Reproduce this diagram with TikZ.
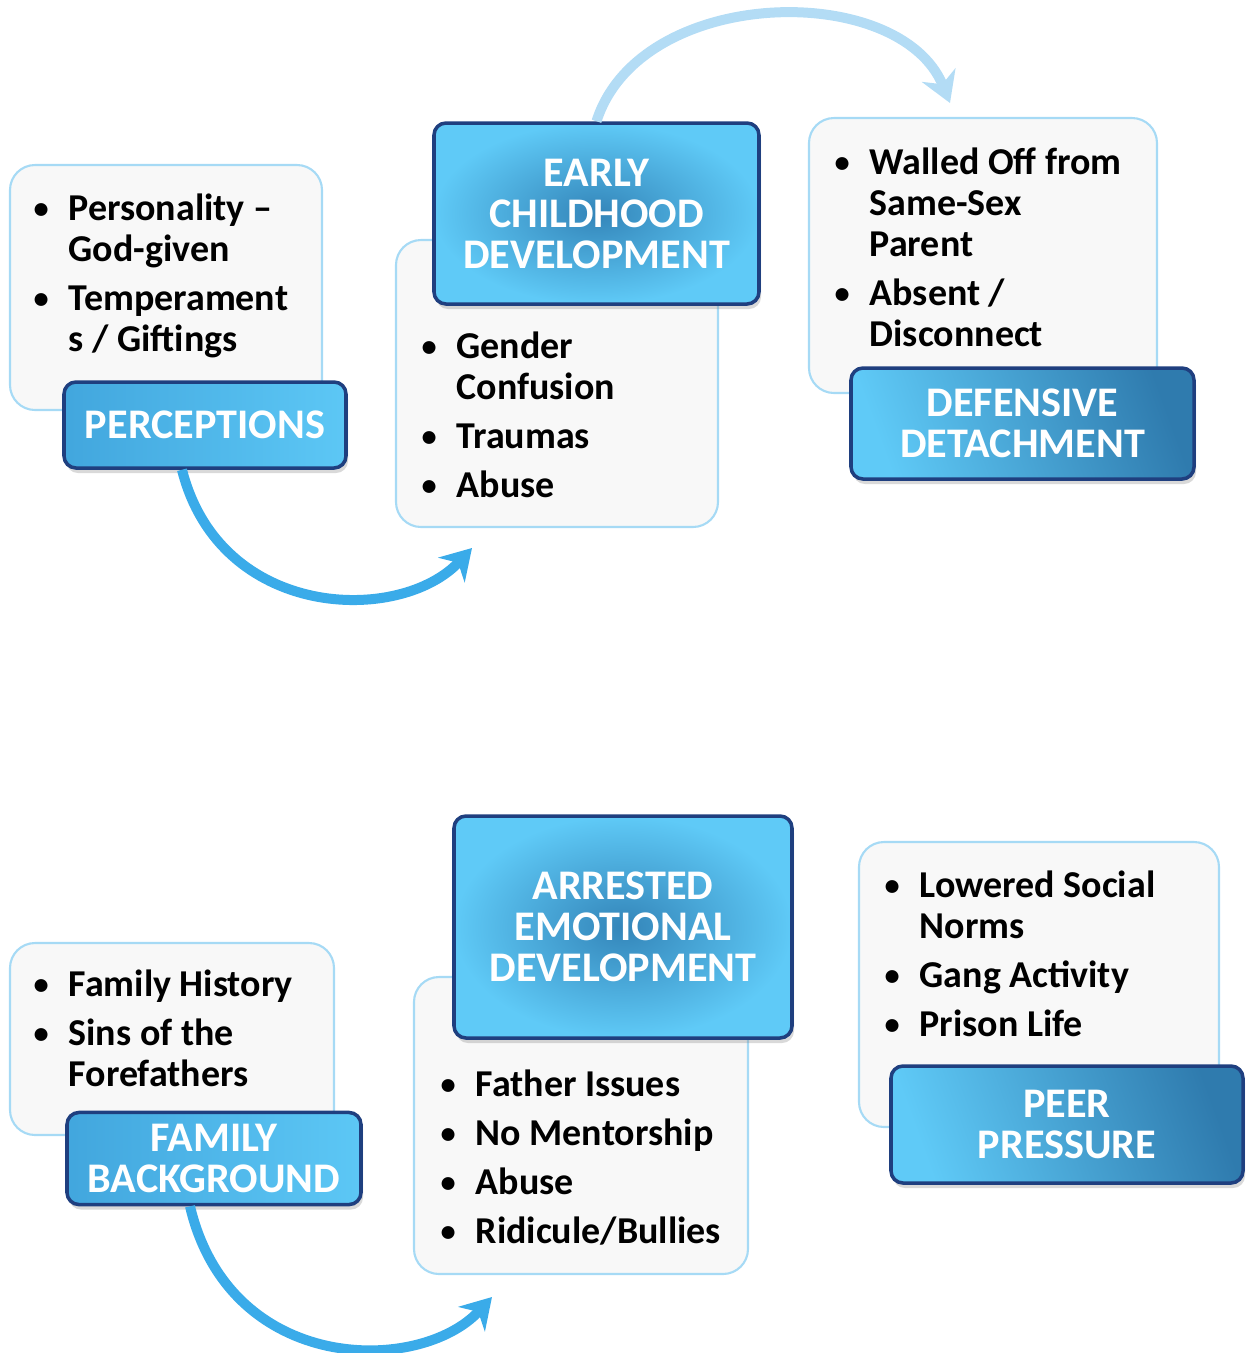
\documentclass[tikz,border=0pt]{standalone}
\usepackage{fontspec}
\setmainfont{Carlito}
\usepackage{tikz}
\usetikzlibrary{arrows.meta}
\usetikzlibrary{shadows}
\usetikzlibrary{positioning}

\definecolor{boxlight}{HTML}{5FCAF7}
\definecolor{boxmid}{HTML}{45AEE6}
\definecolor{boxdark}{HTML}{2F7BAE}
\definecolor{boxedge}{HTML}{1F3F7F}
\definecolor{listfill}{HTML}{F8F8F8}
\definecolor{listedge}{HTML}{A6DAF5}
\definecolor{arrowblue}{HTML}{3AABE9}
\definecolor{arrowpale}{HTML}{B3DCF5}

\newcommand{\bul}{\raisebox{0.02cm}{\scalebox{0.8}{\textbullet}}}

\begin{document}
\begin{tikzpicture}[
	listbox/.style={draw=listedge, line width=0.6pt, fill=listfill, rounded corners=0.25cm},
	listtext/.style={anchor=north west, inner sep=0pt, font=\fontsize{10.8pt}{11.67pt}\selectfont\bfseries},
	titlebox/.style={draw=boxedge, line width=1pt, rounded corners=0.12cm, align=center,
		text=white, font=\fontsize{12pt}{11.67pt}\selectfont\bfseries,
		drop shadow={shadow xshift=0.02cm, shadow yshift=-0.05cm, opacity=0.3}},
	radialshade/.style={inner color=boxdark!80!boxmid, outer color=boxlight},
	linearshade/.style={left color=boxlight, right color=boxdark, shading angle=110},
	flatshade/.style={left color=boxmid!85!boxdark, right color=boxlight!90!boxmid},
	flowarrow/.style={line width=0.1cm, -{Stealth[length=0.3cm, width=0.36cm]}}
]
	\useasboundingbox (0,0) rectangle (12.46,-13.53);
	
	% top row: perceptions
	\node[listbox, minimum width=3.12cm, minimum height=2.45cm] (percBox) at (1.66,-2.875) {};
	\node[listtext] (percList) at (0.33,-1.91) {\begin{tabular}{@{}p{0.35cm}@{}l@{}}
		\bul & Personality -- \\ & God-given \\[0.08cm]
		\bul & Temperament \\ & s / Giftings
	\end{tabular}};
	\node[titlebox, flatshade, minimum width=2.82cm, minimum height=0.86cm] (percTitle) at (2.05,-4.25) {PERCEPTIONS};
	
	% top row: early childhood
	\node[listbox, minimum width=3.22cm, minimum height=2.87cm] (ecdBox) at (5.57,-3.835) {};
	\node[listtext] (ecdList) at (4.21,-3.29) {\begin{tabular}{@{}p{0.35cm}@{}l@{}}
		\bul & Gender \\ & Confusion \\[0.08cm]
		\bul & Traumas \\[0.08cm]
		\bul & Abuse
	\end{tabular}};
	\node[titlebox, radialshade, minimum width=3.25cm, minimum height=1.81cm] (ecdTitle) at (5.965,-2.135) {EARLY\\CHILDHOOD\\DEVELOPMENT};
	
	% top row: defensive detachment
	\node[listbox, minimum width=3.48cm, minimum height=2.75cm] (ddBox) at (9.83,-2.555) {};
	\node[listtext] (ddList) at (8.34,-1.45) {\begin{tabular}{@{}p{0.35cm}@{}l@{}}
		\bul & Walled Off from \\ & Same-Sex \\ & Parent \\[0.08cm]
		\bul & Absent / \\ & Disconnect
	\end{tabular}};
	\node[titlebox, linearshade, minimum width=3.43cm, minimum height=1.11cm] (ddTitle) at (10.225,-4.235) {DEFENSIVE\\DETACHMENT};
	
	% bottom row: family background
	\node[listbox, minimum width=3.24cm, minimum height=1.92cm] (famBox) at (1.72,-10.39) {};
	\node[listtext] (famList) at (0.33,-9.67) {\begin{tabular}{@{}p{0.35cm}@{}l@{}}
		\bul & Family History \\[0.08cm]
		\bul & Sins of the \\ & Forefathers
	\end{tabular}};
	\node[titlebox, flatshade, minimum width=2.94cm, minimum height=0.89cm] (famTitle) at (2.14,-11.585) {FAMILY\\BACKGROUND};
	
	% bottom row: arrested emotional development
	\node[listbox, minimum width=3.34cm, minimum height=2.97cm] (aedBox) at (5.81,-11.255) {};
	\node[listtext] (aedList) at (4.40,-10.67) {\begin{tabular}{@{}p{0.35cm}@{}l@{}}
		\bul & Father Issues \\[0.08cm]
		\bul & No Mentorship \\[0.08cm]
		\bul & Abuse \\[0.08cm]
		\bul & Ridicule/Bullies
	\end{tabular}};
	\node[titlebox, radialshade, minimum width=3.38cm, minimum height=2.22cm] (aedTitle) at (6.23,-9.27) {ARRESTED\\EMOTIONAL\\DEVELOPMENT};
	
	% bottom row: peer pressure
	\node[listbox, minimum width=3.60cm, minimum height=2.85cm] (peerBox) at (10.39,-9.845) {};
	\node[listtext] (peerList) at (8.84,-8.68) {\begin{tabular}{@{}p{0.35cm}@{}l@{}}
		\bul & Lowered Social \\ & Norms \\[0.08cm]
		\bul & Gang Activity \\[0.08cm]
		\bul & Prison Life
	\end{tabular}};
	\node[titlebox, linearshade, minimum width=3.52cm, minimum height=1.17cm] (peerTitle) at (10.67,-11.245) {PEER\\PRESSURE};
	
	% free ends of the arrows
	\coordinate (percEnd) at (4.72,-5.48);
	\coordinate (ecdEnd) at (9.50,-1.03);
	\coordinate (famEnd) at (4.92,-12.97);
	
	% draw arrows
	\draw[flowarrow, arrowblue] ([xshift=-0.23cm]percTitle.south) .. controls (2.2,-6.2) and (4.0,-6.25) .. (percEnd);
	\draw[flowarrow, arrowpale] (ecdTitle.north) .. controls (6.4,0.15) and (9.0,0.2) .. (ecdEnd);
	\draw[flowarrow, arrowblue] ([xshift=-0.24cm]famTitle.south) .. controls (2.3,-13.75) and (4.2,-13.75) .. (famEnd);
\end{tikzpicture}
\end{document}
